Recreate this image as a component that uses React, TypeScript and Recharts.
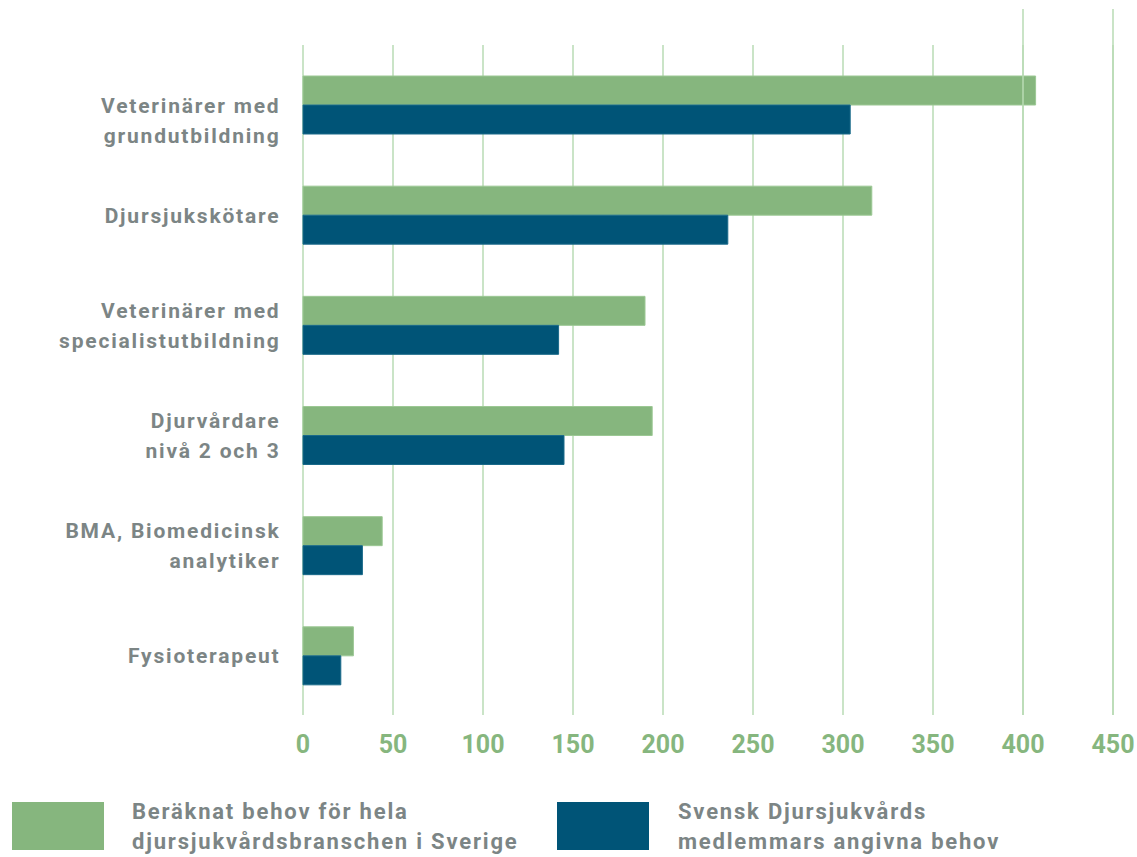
import React from "react";
import { BarChart, Bar, XAxis, YAxis, CartesianGrid, ReferenceLine } from "recharts";

const categories = [
  "Veterinärer med\ngrundutbildning",
  "Djursjukskötare",
  "Veterinärer med\nspecialistutbildning",
  "Djurvårdare\nnivå 2 och 3",
  "BMA, Biomedicinsk\nanalytiker",
  "Fysioterapeut",
];
const totalNeed = [407, 316, 190, 194, 44, 28];
const memberNeed = [304, 236, 142, 145, 33, 21];
const xTicks = [0, 50, 100, 150, 200, 250, 300, 350, 400, 450];
const seriesNames = [
  "Beräknat behov för hela\ndjursjukvårdsbranschen i Sverige",
  "Svensk Djursjukvårds\nmedlemmars angivna behov",
];

const GREEN = "#86b67e";
const BLUE = "#005477";
const GRID = "#b8dbb4";
const GRAY = "#7c8585";
const FONT = "Roboto, 'Noto Sans', sans-serif";

const data = categories.map((c, i) => ({ name: c, total: totalNeed[i], member: memberNeed[i] }));

const YTick = (props: any) => {
  const { x, y, payload, index } = props;
  const lines = String(payload.value).split("\n");
  const lh = 30;
  const shift = index === 0 ? 15 : 0;
  const start = -((lines.length - 1) * lh) / 2 + shift;
  return (
    <text
      x={x}
      y={y}
      textAnchor="end"
      fill={GRAY}
      fontFamily={FONT}
      fontWeight={700}
      fontSize={21}
      letterSpacing={1.8}
    >
      {lines.map((l, i) => (
        <tspan key={i} x={x + 1.5} y={y + start + i * lh} dy="0.36em">
          {l}
        </tspan>
      ))}
    </text>
  );
};

const TallLine = (props: any) => {
  const { x1, y1, x2, y2 } = props;
  return <line x1={x1} y1={Math.min(y1, y2) - 36} x2={x2} y2={Math.max(y1, y2)} stroke={GRID} strokeWidth={1.5} />;
};

const LegendItem = ({ color, label, left, textLeft }: { color: string; label: string; left: number; textLeft: number }) => (
  <>
    <div style={{ position: "absolute", left, top: 802, width: 92, height: 48, background: color }} />
    <div
      style={{
        position: "absolute",
        left: textLeft,
        top: 797,
        color: GRAY,
        fontFamily: FONT,
        fontWeight: 700,
        fontSize: 22,
        lineHeight: "30px",
        letterSpacing: 1.8,
        whiteSpace: "pre",
      }}
    >
      {label}
    </div>
  </>
);

export default function App() {
  return (
    <div style={{ position: "absolute", left: 0, top: 0, width: 1137, height: 857, background: "#fff" }}>
      <BarChart
        width={1137}
        height={857}
        data={data}
        layout="vertical"
        margin={{ top: 45, right: 24, bottom: 102, left: 0 }}
        barCategoryGap={0}
        barGap={0}
      >
        <CartesianGrid vertical horizontal={false} stroke={GRID} strokeWidth={1.5} />
        <XAxis
          type="number"
          domain={[0, 450]}
          ticks={xTicks}
          axisLine={false}
          tickLine={false}
          tickSize={0}
          tickMargin={20}
          height={40}
          tick={{ fill: GREEN, fontFamily: FONT, fontWeight: 700, fontSize: 25 }}
        />
        <YAxis
          type="category"
          dataKey="name"
          width={303}
          axisLine={false}
          tickLine={false}
          tickSize={0}
          tickMargin={24}
          padding={{ top: 5, bottom: 4 }}
          tick={<YTick />}
          interval={0}
        />
        <ReferenceLine x={400} shape={<TallLine />} />
        <ReferenceLine x={450} shape={<TallLine />} />
        <Bar dataKey="total" fill={GREEN} stroke="#9cc894" strokeWidth={1} barSize={29} isAnimationActive={false} />
        <Bar dataKey="member" fill={BLUE} stroke="#1a6a8a" strokeWidth={1} barSize={29} isAnimationActive={false} />
      </BarChart>
      <LegendItem color={GREEN} label={seriesNames[0]} left={12} textLeft={132} />
      <LegendItem color={BLUE} label={seriesNames[1]} left={557} textLeft={678} />
    </div>
  );
}
